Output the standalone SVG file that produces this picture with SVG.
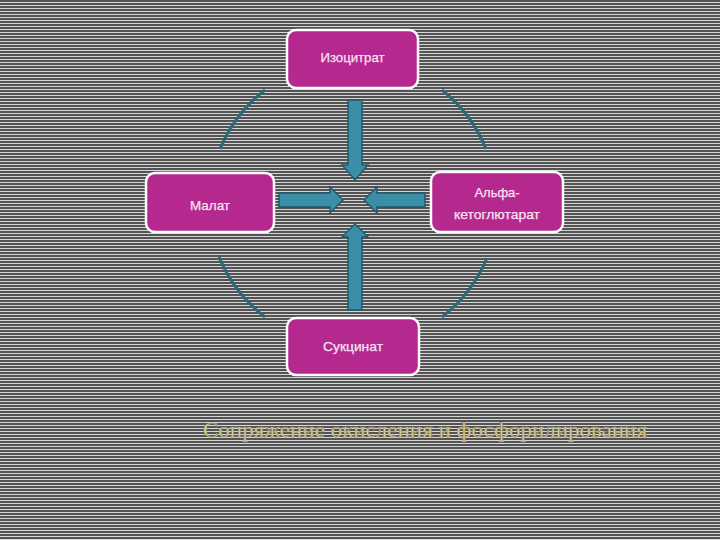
<svg xmlns="http://www.w3.org/2000/svg" width="720" height="540" viewBox="0 0 720 540">
  <defs>
    <pattern id="stripes" x="0" y="0" width="6" height="3" patternUnits="userSpaceOnUse">
      <rect x="0" y="0" width="6" height="3" fill="#d6d6d6"/>
      <rect x="0" y="0" width="6" height="2" fill="#535353"/>
    </pattern>
    <style>
      .node rect { fill: #b5298f; stroke: #ffffff; stroke-width: 2.5; }
      .node text { font-family: "Liberation Sans", Arial, sans-serif; font-size: 13.5px; fill: #f7e4f2; stroke: #f7e4f2; stroke-width: 0.25; text-anchor: middle; }
      .arc { fill: none; stroke: #2a6a78; stroke-width: 3; }
      .arrow { fill: #3a8ea8; stroke: #1f5868; stroke-width: 1.4; stroke-linejoin: miter; }
      .caption { font-family: "Liberation Serif", "Times New Roman", serif; font-size: 21px; fill: #e4d9a2; stroke: #8d8154; stroke-width: 0.5; }
    </style>
  </defs>
  <rect x="0" y="0" width="720" height="540" fill="url(#stripes)"/>

  <g id="connectors">
    <path class="arc" d="M 265 90 A 145 145 0 0 0 220 149"/>
    <path class="arc" d="M 442 90 A 145 145 0 0 1 486 149"/>
    <path class="arc" d="M 219 257 A 145 145 0 0 0 265 317"/>
    <path class="arc" d="M 487 258 A 145 145 0 0 1 442 317"/>
    <polygon class="arrow" points="348,100 362,100 362,165 368,165 355,180 342,165 348,165"/>
    <polygon class="arrow" points="348,310 362,310 362,237 368,237 355,224 342,237 348,237"/>
    <polygon class="arrow" points="279,193 330,193 330,187 343,200 330,213 330,207 279,207"/>
    <polygon class="arrow" points="425,193 377,193 377,187 364,200 377,213 377,207 425,207"/>
  </g>

  <g id="node-isocitrate" class="node">
    <rect x="287" y="30" width="131" height="58" rx="9"/>
    <text x="352.5" y="62" textLength="64" lengthAdjust="spacingAndGlyphs">Изоцитрат</text>
  </g>
  <g id="node-malate" class="node">
    <rect x="146" y="173" width="128" height="59" rx="9"/>
    <text x="210" y="210" textLength="40" lengthAdjust="spacingAndGlyphs">Малат</text>
  </g>
  <g id="node-akg" class="node">
    <rect x="431" y="172" width="132" height="60" rx="9"/>
    <text x="497" y="197" textLength="45" lengthAdjust="spacingAndGlyphs">Альфа-</text>
    <text x="497" y="219" textLength="86" lengthAdjust="spacingAndGlyphs">кетоглютарат</text>
  </g>
  <g id="node-succinate" class="node">
    <rect x="287" y="318" width="132" height="57" rx="9"/>
    <text x="353" y="351" textLength="60" lengthAdjust="spacingAndGlyphs">Сукцинат</text>
  </g>

  <text class="caption" x="203" y="437" textLength="444" lengthAdjust="spacingAndGlyphs">Сопряжение окисления и фосфорилирования</text>
</svg>
